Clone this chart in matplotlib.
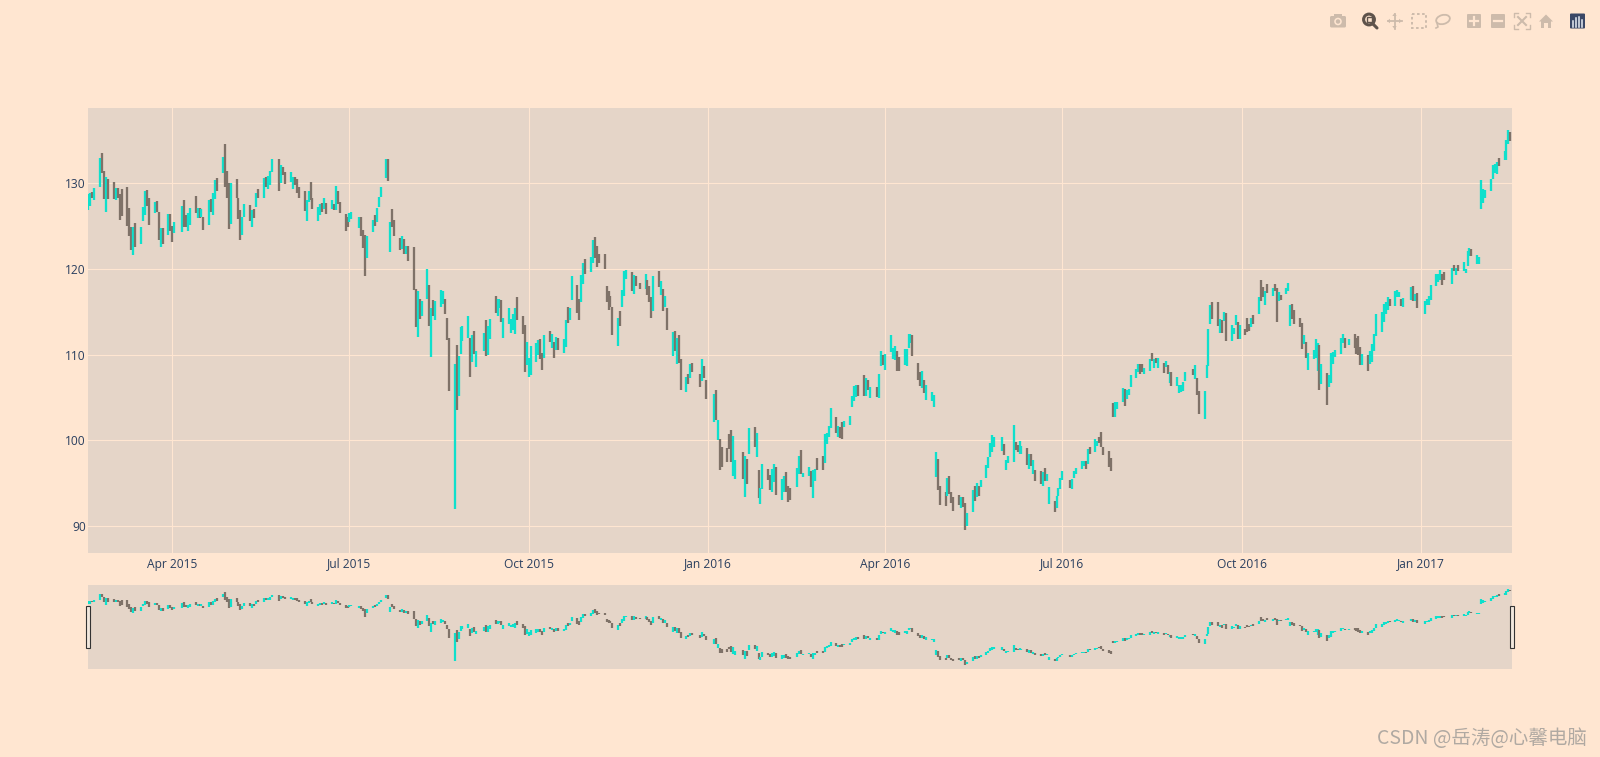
import pandas as pd
import matplotlib
matplotlib.use("Agg")
import matplotlib.pyplot as plt
import matplotlib.dates as mdates
from matplotlib.patches import Rectangle, Circle, Ellipse, Polygon, FancyBboxPatch

holidays = ["2015-04-03","2015-05-25","2015-07-03","2015-09-07","2015-11-26","2015-12-25",
            "2016-01-01","2016-01-18","2016-02-15","2016-03-25","2016-05-30","2016-07-04",
            "2016-09-05","2016-11-24","2016-12-26","2017-01-02","2017-01-16"]
dates = pd.bdate_range("2015-02-17", "2017-02-16").difference(pd.to_datetime(holidays))

highs = [
 128.76,128.84,129.0,129.5, 132.95,133.5,131.47,130.78,130.47, 130.2,129.4,129.46,128.76,129.3,
 129.53,127.17,124.96,124.88,125.35, 124.96,127.29,129.1,129.2,128.33, 127.83,127.95,126.7,124.84,124.77,
 126.4,126.4,125.04,125.47, 127.4,128.02,126.3,126.5,127.17, 128.53,127.17,127.1,127.0,126.05,
 128.06,128.14,128.84,130.4,130.6, 133.02,134.54,131.47,130.08,130.0, 130.47,128.26,126.9,126.05,127.6,
 127.48,126.9,127.05,128.9,129.38, 130.58,130.78,130.85,131.47,132.87, 132.8,132.13,131.86,131.36,
 131.28,130.7,130.78,130.5,129.53, 129.1,128.06,129.15,130.1,128.26, 127.2,127.6,127.75,128.26,127.75,
 128.0,127.6,129.73,129.1,127.87, 126.4,126.05,126.5,126.7, 126.1,126.05,124.57,123.95,123.8,
 125.74,126.3,127.1,128.45,129.53, 132.87,132.8,125.43,127.0,125.74, 123.6,123.88,123.5,122.64,122.64,
 122.57,117.7,117.44,116.5,116.25, 119.99,118.18,115.4,116.4,116.3, 117.6,117.4,116.55,114.3,111.9,
 108.9,111.1,109.9,113.26,113.33, 114.5,111.9,112.36,112.75,110.4, 112.56,114.0,113.3,114.2,
 116.9,116.55,116.55,116.43,114.3, 115.4,114.2,114.7,115.47,116.7, 114.57,113.5,111.5,109.65,111.0,
 111.4,111.7,111.8,110.23,112.3, 112.75,112.44,111.5,112.05,112.0, 111.8,114.1,115.6,115.47,119.2,
 118.14,116.55,119.26,120.66,121.16, 121.36,123.4,123.7,122.64,121.74, 121.74,118.06,117.4,116.8,115.54,
 114.3,115.1,117.5,119.73,119.88, 119.7,119.34,119.2,118.37, 119.4,118.76,118.06,116.74,119.22,
 119.8,118.57,117.67,116.9,115.4, 112.67,112.75,112.0,112.25,109.53, 107.44,107.7,108.88,109.07,
 107.7,109.46,108.72,107.1, 105.4,105.9,102.4,100.16,99.2, 99.15,100.74,101.24,100.54,97.75,
 98.63,98.16,97.8,101.45, 101.53,100.82,96.6,94.43,97.3, 96.63,96.0,96.7,97.3,96.9,
 95.53,95.84,96.3,94.63,94.43, 96.8,98.2,98.86,96.2, 96.86,96.43,96.5,96.7,98.0,
 98.2,100.7,100.82,101.7,103.76, 102.78,101.73,101.6,102.2,102.3, 102.86,105.14,106.3,106.43,106.5,
 107.65,107.3,107.1,106.24, 106.2,107.8,110.43,109.96,110.04, 112.27,110.82,111.0,110.43,109.76,
 110.63,110.63,112.4,112.47,112.3, 109.0,108.0,108.08,107.0,106.47, 105.65,105.25,98.63,97.8,94.63,
 93.96,95.65,95.84,93.96,93.37, 93.65,93.45,93.45,92.67,91.53, 94.24,94.63,95.06,94.63,95.33,
 97.1,98.05,99.73,100.67,100.43, 100.35,99.53,97.76,98.2, 101.84,99.84,99.45,99.92,99.33,
 99.06,98.4,98.4,97.7,96.6, 96.43,96.27,96.82,96.12,94.55, 92.98,93.53,94.47,95.65,96.4,
 95.33,95.53,96.43,96.82, 97.57,97.6,97.6,98.98,99.18, 100.12,99.92,100.35,100.94,99.18,
 98.78,97.92,104.35,104.47,104.5, 106.16,106.04,105.92,106.0,107.65, 108.35,108.94,108.94,108.94,108.43,
 109.53,110.24,109.45,109.6,109.65, 109.06,109.25,108.75,107.96,108.0, 107.4,106.5,106.5,106.82,108.0,
 108.37,108.75,107.3,105.72, 105.72,108.8,113.03,115.76,116.19, 116.19,114.12,114.0,114.98,114.82,
 113.42,113.15,114.67,113.85,113.42, 113.04,114.32,113.62,114.32,114.6, 116.77,118.72,117.94,117.43,118.2,
 117.82,118.29,117.74,117.35,116.93, 117.78,118.4,115.76,115.88,115.21, 114.24,113.74,112.33,111.48,110.23,
 110.54,111.79,111.32,111.09,108.87, 107.82,107.67,110.23,110.31,110.54, 112.0,112.4,111.9,111.87,
 112.45,112.0,112.2,110.9,110.1, 110.0,110.4,111.2,112.43,114.7, 115.0,115.93,116.16,116.7,116.5,
 117.4,117.5,117.36,116.5,116.6, 117.87,118.06,117.13,117.2, 116.32,116.5,116.9,118.14,
 119.46,119.38,119.92,119.46,119.6, 120.16,120.5,120.12,120.5, 120.78,120.04,122.05,122.44,122.33,
 121.67,121.4,130.39,129.34,129.2, 130.5,132.1,132.2,132.45,132.95, 133.8,135.1,136.27,136.0,
]
lows = [
 126.9,127.36,128.26,128.0, 129.6,131.16,128.14,126.6,128.2, 128.2,128.06,128.3,125.74,126.2,
 125.04,123.8,122.17,121.63,122.56, 122.87,125.62,126.3,127.36,125.16, 126.5,126.6,123.33,122.56,122.87,
 123.95,124.38,123.1,124.2, 124.34,124.96,124.96,124.38,125.16, 126.5,125.93,125.93,126.05,124.5,
 125.16,126.6,126.3,128.14,129.15, 131.16,129.53,128.26,124.65,125.27, 128.26,125.8,123.33,124.0,126.05,
 125.66,124.88,125.9,127.2,128.26, 128.33,129.6,129.3,129.8,131.36, 129.07,130.0,130.97,129.92,
 130.2,129.3,129.8,128.84,128.3, 126.8,125.62,127.87,128.06,127.05, 125.66,126.28,126.7,126.98,126.4,
 127.05,126.9,126.9,127.6,126.5, 124.4,124.88,125.5,125.8, 124.8,123.8,122.5,119.2,121.24,
 124.34,125.04,125.54,127.29,128.37, 130.62,130.3,121.94,124.96,123.88, 122.17,122.33,121.8,121.8,120.9,
 117.5,113.25,112.1,114.12,114.5, 116.53,113.33,109.7,114.57,114.0, 115.54,115.93,114.7,111.7,105.77,
 92.0,103.6,105.16,110.1,111.6, 112.0,107.4,109.2,110.04,108.57, 110.4,109.84,110.0,111.8,
 114.9,114.5,115.47,113.8,111.9, 113.64,112.56,112.83,112.44,114.0, 112.44,107.95,108.8,107.4,107.6,
 109.15,110.0,109.45,108.2,109.57, 111.47,110.74,109.57,110.6,110.58, 110.2,110.9,113.7,114.1,116.36,
 114.9,114.0,116.1,118.3,119.4, 119.65,120.7,121.3,120.2,120.66, 120.04,116.1,115.23,115.6,112.3,
 111.0,113.33,115.54,116.8,118.88, 117.4,117.13,118.0,117.64, 117.7,116.94,116.1,114.26,115.15,
 117.87,116.94,115.1,115.54,112.87, 109.84,110.43,108.88,109.07,105.9, 105.66,106.55,107.33,108.0,
 106.24,106.94,107.25,104.88, 102.1,102.44,100.0,96.55,96.9, 97.44,98.95,97.44,95.9,95.5,
 95.5,93.37,94.94,98.4, 99.18,98.08,93.25,92.6,94.35, 95.4,94.16,94.04,95.14,93.65,
 93.0,93.96,93.96,92.8,93.0, 94.55,96.1,96.1,95.73, 95.9,94.55,93.25,95.25,96.5,
 96.6,97.37,99.57,100.43,101.4, 100.9,100.35,100.3,100.2,101.53, 101.76,103.88,104.63,105.06,105.2,
 105.14,105.2,105.92,104.94, 105.06,104.9,108.67,108.86,108.27, 110.35,109.45,109.37,108.16,108.16,
 108.86,108.67,110.82,111.33,109.84, 107.0,106.3,106.12,105.53,104.67, 104.55,103.88,95.73,94.24,92.47,
 92.35,93.57,93.76,92.67,91.8, 92.5,92.08,92.2,89.53,90.0, 91.6,92.98,93.37,93.49,94.55,
 95.65,96.83,98.08,98.67,99.25, 98.78,98.3,96.6,97.37, 97.53,98.94,98.67,98.4,98.4,
 97.1,96.7,97.0,96.04,95.25, 94.94,94.67,95.25,95.25,92.6, 91.6,92.08,93.57,94.35,95.33,
 94.4,94.35,95.6,96.04, 96.67,96.98,96.7,97.3,98.47, 98.6,99.37,99.65,99.18,98.3,
 96.9,96.4,102.78,102.7,103.7, 104.43,104.04,104.82,105.33,106.24, 107.25,108.0,107.8,107.96,107.8,
 108.08,109.25,108.47,108.98,108.47, 107.88,108.55,107.7,106.7,106.3, 106.3,105.53,105.6,105.73,106.9,
 107.6,107.12,105.3,103.1, 102.55,107.28,108.68,113.54,114.12, 113.35,112.57,112.5,113.93,111.6,
 111.6,112.37,113.42,111.87,111.87, 112.33,112.65,112.72,113.23,113.54, 114.79,116.26,116.77,115.8,117.16,
 116.85,117.47,113.85,116.26,116.34, 117.04,117.43,113.35,114.12,113.54, 113.27,110.62,111.21,109.65,108.17,
 109.46,109.65,108.09,105.88,106.58, 104.12,106.23,106.73,108.87,109.73, 110.1,111.4,110.8,111.1,
 110.75,110.1,110.0,108.85,108.85, 108.1,108.9,109.2,110.42,112.2, 112.6,113.8,114.7,115.27,115.66,
 115.74,116.74,116.74,115.66,115.6, 116.43,116.24,116.24,115.43, 114.8,115.8,115.85,116.43,
 118.0,118.45,118.68,118.18,118.76, 118.2,119.73,119.34,119.73, 119.73,119.53,120.3,121.55,121.55,
 120.62,120.62,126.98,127.75,128.3, 129.1,130.45,131.2,131.1,132.0, 132.75,132.75,134.6,134.9,
]
# u = close above open, d = close below open; one group per trading week
directions = """
uudu uddud duddd dddud uuudd uddud uddu udduu dudud uduud udddu ddduu dudud uduuu dudd
uuddd duudd uudud ududd dduu udddu uduuu ududd dudud ddudu ududu uuddd uduuu ududu uduu
duudu uuuud dduuu uuddu dudud uuduu dduud uuddd ddddd uduuu dudd udddu dudud ududd udud dudd
ududd ddduu dudu duduu dduud uuddd uudu uduud duuuu duddu uuuud dudu duudu uuudd uuuud ddudu
uuudd duddd duddu ududu uuuuu uduu udduu dudud duduu duuuu duuu uudud uuddd ddduu uduuu uuddu
ududu dudud uuuuu dudd uuuud dudud uuudu dddud uddud uddud uuudd ddudu uuudu duuuu uudu ddddu
duuuu uuuud uuudu udud uuuu uuudd udud uuuud uuuuu uuuud uuud
""".split()
rising = [c == "u" for week in directions for c in week]

if not (len(dates) == len(highs) == len(lows) == len(rising)):
    raise ValueError(f"lengths {len(dates)} {len(highs)} {len(lows)} {len(rising)}")

FIGW, FIGH = 1600, 757
PAPER = "#FFE6D1"
PLOT = "#E5D5C8"
UP = "#0FE0CC"
DOWN = "#7F7268"
TEXT = "#2A3F5F"
ICON = "#CDBBAB"
plt.rcParams["font.family"] = ["Open Sans", "DejaVu Sans"]

tick_dates = pd.to_datetime(["2015-04-01","2015-07-01","2015-10-01","2016-01-01",
                             "2016-04-01","2016-07-01","2016-10-01","2017-01-01"])
tick_labels = ["Apr 2015","Jul 2015","Oct 2015","Jan 2016","Apr 2016","Jul 2016","Oct 2016","Jan 2017"]
y_ticks = [90, 100, 110, 120, 130]

fig = plt.figure(figsize=(FIGW/100, FIGH/100), dpi=100, facecolor=PAPER)

def px_axes(l, t, r, b):
    return fig.add_axes([l/FIGW, 1-b/FIGH, (r-l)/FIGW, (b-t)/FIGH], facecolor=PLOT)

ax = px_axes(88, 108, 1511.5, 552.7)
sl = px_axes(88, 585, 1511.5, 669)

xnum = mdates.date2num(dates)
colors = [UP if r else DOWN for r in rising]
x0 = mdates.date2num(pd.Timestamp("2015-02-16 18:00"))
x1 = mdates.date2num(pd.Timestamp("2017-02-16 14:00"))

for a, lw in ((ax, 1.65), (sl, 1.6)):
    a.vlines(xnum, lows, highs, colors=colors, linewidth=lw, capstyle="butt", zorder=3)
    a.set_xlim(x0, x1)
    a.set_ylim(86.9, 138.79)
    for s in a.spines.values():
        s.set_visible(False)

ax.set_xticks(mdates.date2num(tick_dates))
ax.set_xticklabels(tick_labels)
ax.set_yticks(y_ticks)
ax.tick_params(axis="both", length=0, labelcolor=TEXT, labelsize=8.64)
ax.tick_params(axis="x", pad=3.5)
ax.tick_params(axis="y", pad=1.5)
ax.grid(True, color=PAPER, linewidth=0.8, zorder=1)
ax.set_axisbelow(True)
sl.set_xticks([])
sl.set_yticks([])

# overlay in pixel coordinates: slider handles, mode bar, watermark
ov = fig.add_axes([0, 0, 1, 1], facecolor="none")
ov.set_xlim(0, FIGW)
ov.set_ylim(FIGH, 0)
ov.axis("off")

for hx in (85.5, 1509.5):
    ov.add_patch(Rectangle((hx, 606), 4, 42, facecolor="#F2E8DE", edgecolor="#333333", linewidth=0.8, zorder=5))

# camera
ov.add_patch(FancyBboxPatch((1330.5, 16.5), 15, 10.5, boxstyle="round,pad=0.5,rounding_size=1.5", fc=ICON, ec="none"))
ov.add_patch(Rectangle((1334, 14), 8, 3, fc=ICON, ec="none"))
ov.add_patch(Circle((1338, 21.5), 3.8, fc=PAPER, ec="none"))
ov.add_patch(Circle((1338, 21.5), 2.2, fc=ICON, ec="none"))
# zoom (active)
ZOOM = "#5E534B"
ov.add_patch(Circle((1369, 19.5), 5.4, fc=PAPER, ec=ZOOM, lw=2.2))
ov.plot([1373, 1377], [24, 28], color=ZOOM, lw=2.2, solid_capstyle="round")
ov.add_patch(Rectangle((1366.5, 17), 5, 5, fc=PAPER, ec=ZOOM, lw=1))
# pan
ov.plot([1387.5, 1401.5], [21, 21], color=ICON, lw=1.3)
ov.plot([1394.5, 1394.5], [13.5, 28.5], color=ICON, lw=1.3)
for tri in ([(1387, 21), (1390, 18.8), (1390, 23.2)], [(1402, 21), (1399, 18.8), (1399, 23.2)],
            [(1394.5, 13), (1392.3, 16), (1396.7, 16)], [(1394.5, 29), (1392.3, 26), (1396.7, 26)]):
    ov.add_patch(Polygon(tri, fc=ICON, ec="none"))
# box select
ov.add_patch(Rectangle((1411.5, 14), 14, 14, fc="none", ec=ICON, lw=1.4, ls=(0, (1.3, 1.3))))
# lasso
ov.add_patch(Ellipse((1443, 19.5), 14, 9, angle=-15, fc="none", ec=ICON, lw=1.3))
ov.plot([1437, 1438, 1436], [23, 27, 28], color=ICON, lw=1.2)
# plus, minus
for sx in (1467, 1491):
    ov.add_patch(FancyBboxPatch((sx, 14), 14, 14, boxstyle="round,pad=0,rounding_size=1", fc=ICON, ec="none"))
ov.plot([1470, 1478], [21, 21], color=PAPER, lw=1.6)
ov.plot([1474, 1474], [17, 25], color=PAPER, lw=1.6)
ov.plot([1494, 1502], [21, 21], color=PAPER, lw=1.6)
# autoscale
for cx, cy, dx, dy in ((1514, 13, 1, 1), (1530, 13, -1, 1), (1514, 29, 1, -1), (1530, 29, -1, -1)):
    ov.plot([cx+4*dx, cx, cx], [cy, cy, cy+4*dy], color=ICON, lw=1)
ov.plot([1518, 1526], [17, 25], color=ICON, lw=1.5)
ov.plot([1526, 1518], [17, 25], color=ICON, lw=1.5)
# home
ov.add_patch(Polygon([(1539, 21.5), (1546, 14.5), (1553, 21.5), (1551, 21.5), (1551, 28), (1548, 28),
                      (1548, 23), (1544, 23), (1544, 28), (1541, 28), (1541, 21.5)], fc=ICON, ec="none"))
# logo
LOGO = "#3A4766"
ov.add_patch(FancyBboxPatch((1570, 13.5), 15, 15, boxstyle="round,pad=0,rounding_size=1", fc=LOGO, ec="none"))
for bx, by in ((1572.5, 21), (1575.7, 18), (1578.9, 16.5), (1582, 20)):
    ov.plot([bx, bx], [by, 27], color="#E8EEF5", lw=1.1)

ov.text(1377, 738.5, "CSDN @岳涛@心馨电脑", color="#B0A9A2", fontsize=14,
        family=["Noto Sans CJK SC", "DejaVu Sans"], va="center", ha="left")

fig.savefig("out.png", dpi=100, facecolor=PAPER)
